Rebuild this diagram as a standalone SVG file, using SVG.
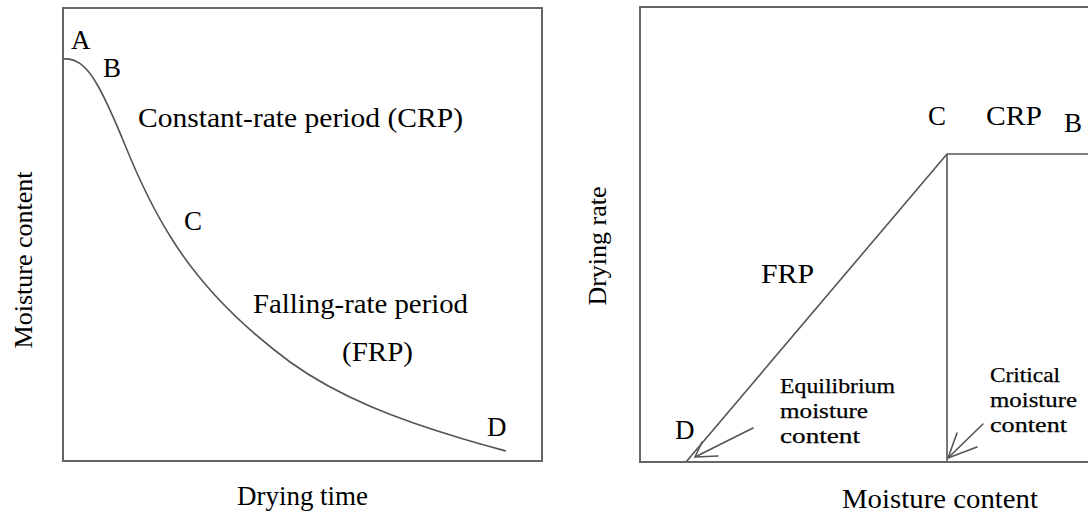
<svg xmlns="http://www.w3.org/2000/svg" width="1088" height="516" viewBox="0 0 1088 516">
  <style>
    .frame { fill: none; stroke: #666; stroke-width: 2; }
    .curve { fill: none; stroke: #555; stroke-width: 1.6; }
    .line { fill: none; stroke: #555; stroke-width: 1.6; }
    .arrow { fill: none; stroke: #555; stroke-width: 1.6; stroke-linecap: round; stroke-linejoin: round; }
    .lbl { font-family: "Liberation Serif", "Times New Roman", serif; font-size: 27px; fill: #000; }
    .vlbl { font-family: "Liberation Serif", "Times New Roman", serif; font-size: 26px; fill: #000; }
    .small { font-family: "Liberation Serif", "Times New Roman", serif; font-size: 21px; fill: #000; stroke: #000; stroke-width: 0.25; }
  </style>
  <rect width="1088" height="516" fill="#ffffff"/>

  <g id="left-chart">
    <rect class="frame" x="63" y="8" width="479" height="453"/>
    <text class="vlbl" transform="translate(32,260) rotate(-90)" text-anchor="middle">Moisture content</text>
    <text class="lbl" x="237" y="505" textLength="131" lengthAdjust="spacingAndGlyphs">Drying time</text>
  </g>

  <g id="connectors">
    <path id="drying-curve" class="curve" d="M63,59 C75,58 86,64 98,86 C108,104 114,118 125,145 C140,182 155,212 170,236 C200,285 240,325 290,362 C340,398 400,420 460,438 C480,444 495,448 506,451"/>
    <path id="crp-line" class="line" d="M947,154 L1090,154"/>
    <path id="critical-line" class="line" d="M947,154 L947,462"/>
    <path id="frp-line" class="line" d="M947,154 L686,462"/>
    <g id="arrow-equilibrium">
      <path class="arrow" d="M753,428 L695,457"/>
      <path class="arrow" d="M702,442 L695,457 L718,456"/>
    </g>
    <g id="arrow-critical">
      <path class="arrow" d="M983,424 L948,458"/>
      <path class="arrow" d="M957,433 L948,458 L977,447"/>
    </g>
  </g>

  <g id="left-labels">
    <text id="A" class="lbl" x="71" y="49">A</text>
    <text id="B-left" class="lbl" x="103" y="77">B</text>
    <text id="CRP-left" class="lbl" x="138" y="127" textLength="325" lengthAdjust="spacingAndGlyphs">Constant-rate period (CRP)</text>
    <text id="C-left" class="lbl" x="184" y="230">C</text>
    <text id="FRP-left-1" class="lbl" x="253" y="313" textLength="215" lengthAdjust="spacingAndGlyphs">Falling-rate period</text>
    <text id="FRP-left-2" class="lbl" x="342" y="361" textLength="71" lengthAdjust="spacingAndGlyphs">(FRP)</text>
    <text id="D-left" class="lbl" x="487" y="436">D</text>
  </g>

  <g id="right-chart">
    <path class="frame" d="M1090,7 L640,7 L640,462 L1090,462"/>
    <text class="vlbl" transform="translate(606,246) rotate(-90)" text-anchor="middle">Drying rate</text>
    <text class="lbl" x="842" y="508" textLength="196" lengthAdjust="spacingAndGlyphs">Moisture content</text>
  </g>

  <g id="right-labels">
    <text id="C-right" class="lbl" x="928" y="125">C</text>
    <text id="CRP-right" class="lbl" x="986" y="125" textLength="56" lengthAdjust="spacingAndGlyphs">CRP</text>
    <text id="B-right" class="lbl" x="1064" y="132">B</text>
    <text id="FRP-right" class="lbl" x="761" y="283" textLength="53" lengthAdjust="spacingAndGlyphs">FRP</text>
    <text id="D-right" class="lbl" x="675" y="439">D</text>
    <g id="equilibrium-label">
      <text class="small" x="780" y="393" textLength="115" lengthAdjust="spacingAndGlyphs">Equilibrium</text>
      <text class="small" x="780" y="418" textLength="88" lengthAdjust="spacingAndGlyphs">moisture</text>
      <text class="small" x="780" y="443" textLength="80" lengthAdjust="spacingAndGlyphs">content</text>
    </g>
    <g id="critical-label">
      <text class="small" x="990" y="382" textLength="70" lengthAdjust="spacingAndGlyphs">Critical</text>
      <text class="small" x="990" y="407" textLength="87" lengthAdjust="spacingAndGlyphs">moisture</text>
      <text class="small" x="990" y="432" textLength="77" lengthAdjust="spacingAndGlyphs">content</text>
    </g>
  </g>
</svg>
